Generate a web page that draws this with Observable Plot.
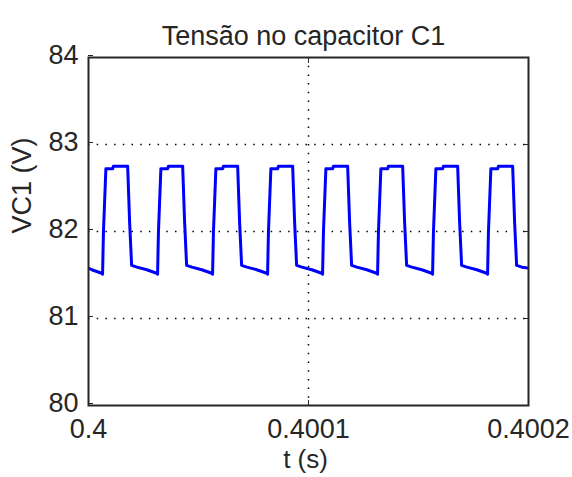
<!DOCTYPE html>
<html><head><meta charset="utf-8">
<script src="https://cdn.jsdelivr.net/npm/d3@7"></script>
<script src="https://cdn.jsdelivr.net/npm/@observablehq/plot@0.6"></script>
<style>body{margin:0;background:#fff;} svg{display:block}</style>
</head><body><div id="chart"></div>
<script>
const title = "Tensão no capacitor C1";
const xLabel = "t (s)";
const yLabel = "VC1 (V)";
const t0 = 0.4; // s
const xTicks = [0.4, 0.4001, 0.4002];
const xTickLabels = ["0.4", "0.4001", "0.4002"];
const yTicks = [80, 81, 82, 83, 84];
const yTickLabels = ["80", "81", "82", "83", "84"];
const yGrid = [81, 82, 83];
const xGrid = [0.4001];

// time offsets from t0, in microseconds
const tMicro = [
  0,
  1.5, 6.0, 6.4, 6.8, 7.9, 11.0, 11.3, 17.8, 18.7, 19.6, 22.0,
  26.5, 31.0, 31.4, 31.8, 32.9, 36.0, 36.3, 42.8, 43.7, 44.6, 47.0,
  51.5, 56.0, 56.4, 56.8, 57.9, 61.0, 61.3, 67.8, 68.7, 69.6, 72.0,
  76.5, 81.0, 81.4, 81.8, 82.9, 86.0, 86.3, 92.8, 93.7, 94.6, 97.0,
  101.5, 106.0, 106.4, 106.8, 107.9, 111.0, 111.3, 117.8, 118.7, 119.6, 122.0,
  126.5, 131.0, 131.4, 131.8, 132.9, 136.0, 136.3, 142.8, 143.7, 144.6, 147.0,
  151.5, 156.0, 156.4, 156.8, 157.9, 161.0, 161.3, 167.8, 168.7, 169.6, 172.0,
  176.5, 181.0, 181.4, 181.8, 182.9, 186.0, 186.3, 192.8, 193.7, 194.6, 197.0,
  200.0
];
// capacitor voltage (V)
const vc1 = [
  81.58,
  81.56, 81.52, 81.51, 82.00, 82.72, 82.72, 82.75, 82.75, 82.10, 81.61, 81.59,
  81.56, 81.52, 81.51, 82.00, 82.72, 82.72, 82.75, 82.75, 82.10, 81.61, 81.59,
  81.56, 81.52, 81.51, 82.00, 82.72, 82.72, 82.75, 82.75, 82.10, 81.61, 81.59,
  81.56, 81.52, 81.51, 82.00, 82.72, 82.72, 82.75, 82.75, 82.10, 81.61, 81.59,
  81.56, 81.52, 81.51, 82.00, 82.72, 82.72, 82.75, 82.75, 82.10, 81.61, 81.59,
  81.56, 81.52, 81.51, 82.00, 82.72, 82.72, 82.75, 82.75, 82.10, 81.61, 81.59,
  81.56, 81.52, 81.51, 82.00, 82.72, 82.72, 82.75, 82.75, 82.10, 81.61, 81.59,
  81.56, 81.52, 81.51, 82.00, 82.72, 82.72, 82.75, 82.75, 82.10, 81.61, 81.59,
  81.58
];

const data = tMicro.map((u, i) => ({t: t0 + u * 1e-6, v: vc1[i]}));
const font = "'Liberation Sans', Arial, Helvetica, sans-serif";
const ink = "#262626";

const chart = Plot.plot({
  width: 572, height: 477,
  marginLeft: 88, marginRight: 44, marginTop: 57, marginBottom: 72,
  style: {fontFamily: font, background: "#fff", overflow: "visible"},
  x: {domain: [0.4, 0.4002]},
  y: {domain: [80, 84]},
  marks: [
    Plot.gridY(yGrid, {stroke: "#000", strokeOpacity: 1, strokeWidth: 1.5, strokeDasharray: "1.5,7.2"}),
    Plot.gridX(xGrid, {stroke: "#000", strokeOpacity: 1, strokeWidth: 1.5, strokeDasharray: "1.5,7.2"}),
    Plot.line(data, {x: "t", y: "v", stroke: "#0000ff", strokeWidth: 3, clip: true}),
    Plot.axisY(yTicks, {anchor: "left", label: null, tickSize: -5, tickPadding: 15, fontSize: 27, fill: ink, stroke: ink, dy: -2,
      tickFormat: (d, i) => yTickLabels[i]}),
    Plot.axisY(yTicks, {anchor: "right", label: null, tickSize: -5, tickFormat: () => "", stroke: ink}),
    Plot.axisX(xTicks, {anchor: "bottom", label: null, tickSize: -5, tickPadding: 18, fontSize: 27, fill: ink, stroke: ink,
      tickFormat: (d, i) => xTickLabels[i]}),
    Plot.axisX(xTicks, {anchor: "top", label: null, tickSize: -5, tickFormat: () => "", stroke: ink}),
    Plot.frame({stroke: ink, strokeWidth: 2}),
    Plot.text([title], {frameAnchor: "top", dy: -32, dx: -5, fontSize: 27, fill: ink}),
    Plot.text([xLabel], {frameAnchor: "bottom", dy: 62, dx: -3, fontSize: 26, fill: ink}),
    Plot.text([yLabel], {frameAnchor: "left", dx: -66, dy: 2, rotate: -90, fontSize: 27, fill: ink})
  ]
});
document.getElementById("chart").append(chart);
</script>
</body></html>
